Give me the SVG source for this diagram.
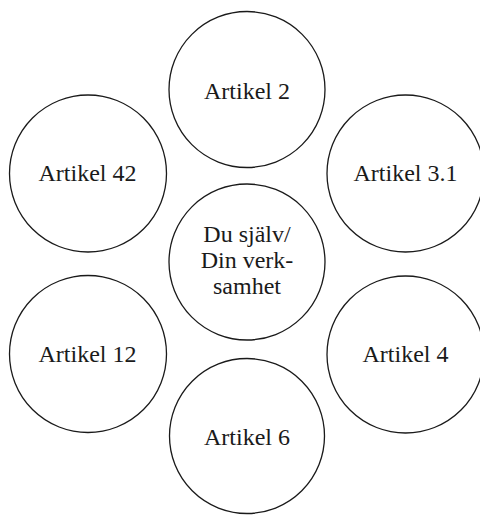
<svg xmlns="http://www.w3.org/2000/svg" width="480" height="515" viewBox="0 0 480 515">
<style>
.c{fill:#fff;stroke:#1a1a1a;stroke-width:1.3}
.t{font-family:"Liberation Serif","Times New Roman",serif;font-size:24px;fill:#1a1a1a;text-anchor:middle}
</style>
<rect width="480" height="515" fill="#fff"/>
<g id="connectors"></g>
<g id="n-art2"><circle class="c" cx="247" cy="89.5" r="78"/><text class="t" x="247" y="99">Artikel 2</text></g>
<g id="n-art42"><circle class="c" cx="88" cy="173.5" r="78.5"/><text class="t" x="87.5" y="181">Artikel 42</text></g>
<g id="n-art31"><circle class="c" cx="405.5" cy="173.5" r="78.5"/><text class="t" x="405.5" y="181">Artikel 3.1</text></g>
<g id="n-center"><circle class="c" cx="247" cy="262" r="78"/><text class="t" x="247" y="241.5">Du själv/</text><text class="t" x="247" y="267.8">Din verk-</text><text class="t" x="247" y="294">samhet</text></g>
<g id="n-art12"><circle class="c" cx="88" cy="354" r="78.5"/><text class="t" x="87.5" y="361.7">Artikel 12</text></g>
<g id="n-art4"><circle class="c" cx="405.5" cy="354.5" r="78.5"/><text class="t" x="405.5" y="361.7">Artikel 4</text></g>
<g id="n-art6"><circle class="c" cx="247" cy="436" r="77.5"/><text class="t" x="247" y="445">Artikel 6</text></g>
</svg>
